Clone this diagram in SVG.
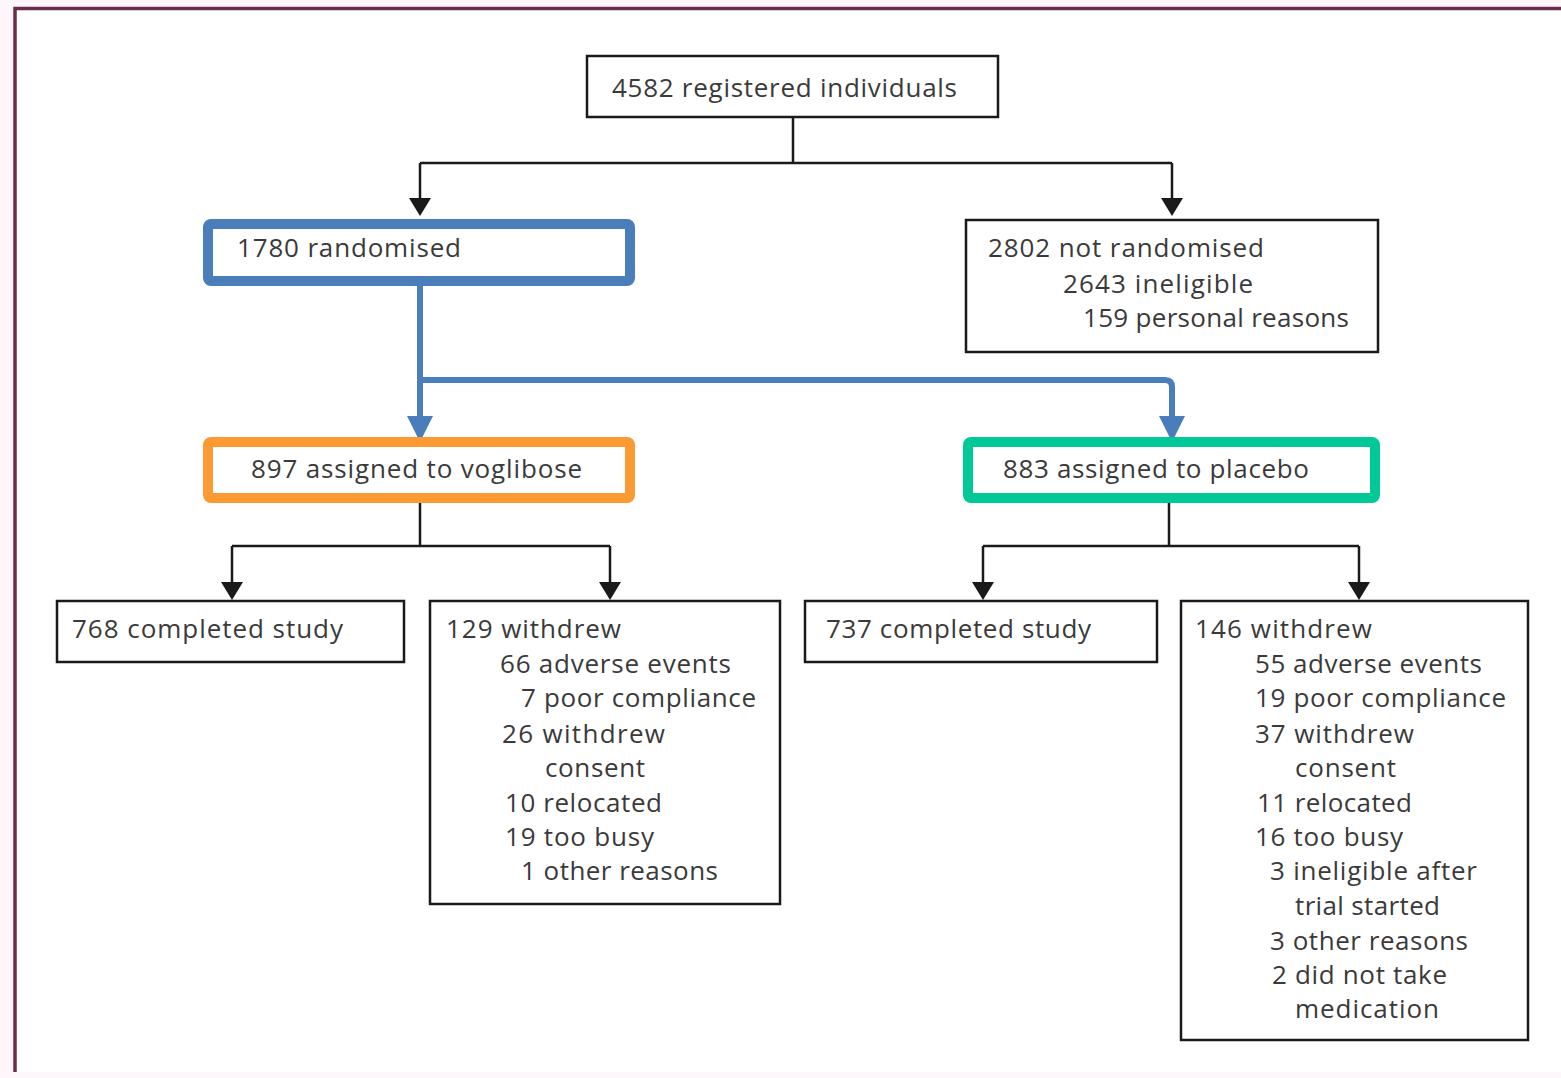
<svg xmlns="http://www.w3.org/2000/svg" width="1561" height="1078" viewBox="0 0 1561 1078">
<style>
.box{fill:#ffffff;stroke:#1a1a1a;stroke-width:2.5}
.cbox{fill:#ffffff;stroke-width:10}
.t{font-family:"Open Sans","Noto Sans","Liberation Sans",sans-serif;font-size:26px;fill:#3a3a3a}
.ln{fill:none;stroke:#1a1a1a;stroke-width:2.5}
.bl{fill:none;stroke:#4a7ebb;stroke-width:6}
</style>
<defs>
<marker id="ab" markerUnits="userSpaceOnUse" markerWidth="18" markerHeight="22" refX="0" refY="11" orient="auto">
<path d="M0,0 L18,11 L0,22 z" fill="#1a1a1a"/>
</marker>
<marker id="abl" markerUnits="userSpaceOnUse" markerWidth="26" markerHeight="26" refX="0" refY="13" orient="auto">
<path d="M0,0 L26,13 L0,26 z" fill="#4a7ebb"/>
</marker>
</defs>
<rect x="0" y="0" width="1561" height="1078" fill="#fdf7fb"/>
<rect x="15" y="8" width="1546" height="1064" fill="#ffffff"/>
<path d="M15,1072 V8.5 H1561" fill="none" stroke="#6b2d4b" stroke-width="3.5"/>

<g id="connectors">
<path class="ln" d="M793,117 V163 M420,163 H1172"/>
<path class="ln" d="M420,163 V198" marker-end="url(#ab)"/>
<path class="ln" d="M1172,163 V198" marker-end="url(#ab)"/>
<path class="bl" d="M420,286 V416" marker-end="url(#abl)"/>
<path class="bl" d="M420,380 H1165 Q1172,380 1172,387 V416" marker-end="url(#abl)"/>
<path class="ln" d="M420,503 V546 M232,546 H610"/>
<path class="ln" d="M232,546 V582" marker-end="url(#ab)"/>
<path class="ln" d="M610,546 V582" marker-end="url(#ab)"/>
<path class="ln" d="M1169,503 V546 M983,546 H1359"/>
<path class="ln" d="M983,546 V582" marker-end="url(#ab)"/>
<path class="ln" d="M1359,546 V582" marker-end="url(#ab)"/>
</g>

<g id="registered">
<rect class="box" x="587" y="56" width="411" height="61"/>
<text class="t" x="612" y="97" textLength="345">4582 registered individuals</text>
</g>

<g id="randomised">
<rect class="cbox" x="208" y="224" width="422" height="57" rx="3" stroke="#4a7ebb"/>
<text class="t" x="237" y="257" textLength="224">1780 randomised</text>
</g>

<g id="not-randomised">
<rect class="box" x="966" y="220" width="412" height="132"/>
<text class="t" x="988" y="257" textLength="276">2802 not randomised</text>
<text class="t" x="1063" y="293" textLength="190">2643 ineligible</text>
<text class="t" x="1083" y="327" textLength="266">159 personal reasons</text>
</g>

<g id="voglibose">
<rect class="cbox" x="208" y="442" width="422" height="56" rx="3" stroke="#fb9a33"/>
<text class="t" x="251" y="478" textLength="331">897 assigned to voglibose</text>
</g>

<g id="placebo">
<rect class="cbox" x="968" y="442" width="407" height="56" rx="3" stroke="#00c896"/>
<text class="t" x="1003" y="478" textLength="306">883 assigned to placebo</text>
</g>

<g id="vog-completed">
<rect class="box" x="57" y="601" width="347" height="61"/>
<text class="t" x="72" y="638" textLength="271">768 completed study</text>
</g>

<g id="vog-withdrew">
<rect class="box" x="430" y="601" width="350" height="303"/>
<text class="t" x="446" y="638" textLength="175">129 withdrew</text>
<text class="t" x="500" y="673" textLength="231">66 adverse events</text>
<text class="t" x="521" y="707" textLength="235">7 poor compliance</text>
<text class="t" x="502" y="743" textLength="163">26 withdrew</text>
<text class="t" x="545" y="777" textLength="100">consent</text>
<text class="t" x="505" y="812" textLength="157">10 relocated</text>
<text class="t" x="505" y="846" textLength="149">19 too busy</text>
<text class="t" x="521" y="880" textLength="197">1 other reasons</text>
</g>

<g id="pla-completed">
<rect class="box" x="805" y="601" width="352" height="61"/>
<text class="t" x="826" y="638" textLength="265">737 completed study</text>
</g>

<g id="pla-withdrew">
<rect class="box" x="1181" y="601" width="347" height="439"/>
<text class="t" x="1195" y="638" textLength="177">146 withdrew</text>
<text class="t" x="1255" y="673" textLength="227">55 adverse events</text>
<text class="t" x="1255" y="707" textLength="251">19 poor compliance</text>
<text class="t" x="1255" y="743" textLength="159">37 withdrew</text>
<text class="t" x="1295" y="777" textLength="101">consent</text>
<text class="t" x="1257" y="812" textLength="155">11 relocated</text>
<text class="t" x="1255" y="846" textLength="148">16 too busy</text>
<text class="t" x="1270" y="880" textLength="207">3 ineligible after</text>
<text class="t" x="1295" y="915" textLength="145">trial started</text>
<text class="t" x="1270" y="950" textLength="198">3 other reasons</text>
<text class="t" x="1272" y="984" textLength="175">2 did not take</text>
<text class="t" x="1295" y="1018" textLength="144">medication</text>
</g>
</svg>
